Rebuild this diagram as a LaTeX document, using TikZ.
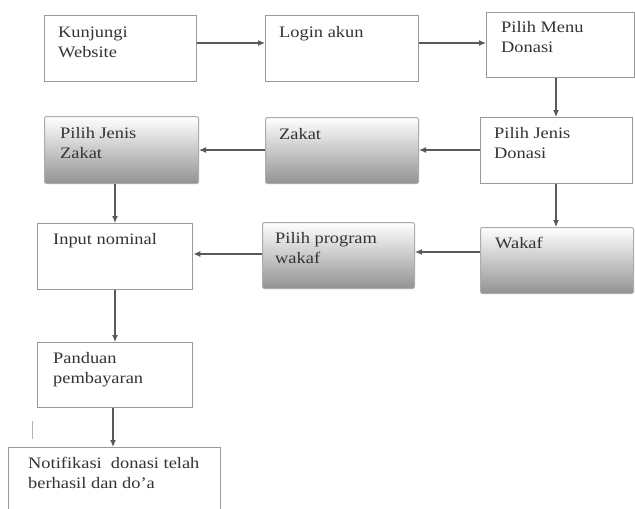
\documentclass[tikz,border=0pt]{standalone}
\usepackage{fontspec}
\newfontfamily\lbl{Liberation Serif}[FakeStretch=1.15]
\usetikzlibrary{arrows.meta}
\newcommand{\boxtext}[1]{\parbox[t]{220pt}{\lbl\fontsize{16}{20.5}\selectfont\raggedright #1}}
\tikzset{
  plainbox/.style={draw=gray!80, line width=1.3pt, fill=white, inner sep=0pt, anchor=north west},
  shadebox/.style={draw=gray!65, line width=1pt, rounded corners=1.5pt, top color=white, bottom color=gray!85, inner sep=0pt, anchor=north west},
  txt/.style={anchor=base west, inner sep=0pt, text=black!80},
  flow/.style={draw=gray!70!black, line width=1.2pt, -{Latex[length=7pt,width=6pt]}},
}
\begin{document}
\begin{tikzpicture}[x=1pt,y=-1pt]
\useasboundingbox (0,0) rectangle (635,509);
\clip (0,0) rectangle (635,509);
\fill[white] (0,0) rectangle (635,509);
% boxes: (left,top), width, height
\node[plainbox, minimum width=152pt, minimum height=66pt] (b1) at (44,15) {};
\node[plainbox, minimum width=153pt, minimum height=66pt] (b2) at (265,15) {};
\node[plainbox, minimum width=148pt, minimum height=65pt] (b3) at (486,12) {};
\node[plainbox, minimum width=152pt, minimum height=66pt] (b4) at (480,117) {};
\node[shadebox, minimum width=153pt, minimum height=66pt] (b5) at (265,117) {};
\node[shadebox, minimum width=154pt, minimum height=67pt] (b6) at (44,116) {};
\node[shadebox, minimum width=153pt, minimum height=66pt] (b7) at (480,227) {};
\node[shadebox, minimum width=152pt, minimum height=66pt] (b8) at (262,222) {};
\node[plainbox, minimum width=155pt, minimum height=66pt] (b9) at (37,223) {};
\node[plainbox, minimum width=155pt, minimum height=65pt] (b10) at (37,342) {};
\node[plainbox, minimum width=212pt, minimum height=80pt] (b11) at (8,447) {};
% texts
\node[txt] (t1) at ([shift={(14pt,-22pt)}]b1.north west) {\boxtext{Kunjungi\\Website}};
\node[txt] (t2) at ([shift={(14pt,-22pt)}]b2.north west) {\boxtext{Login akun}};
\node[txt] (t3) at ([shift={(15pt,-20pt)}]b3.north west) {\boxtext{Pilih Menu\\Donasi}};
\node[txt] (t4) at ([shift={(14pt,-21pt)}]b4.north west) {\boxtext{Pilih Jenis\\Donasi}};
\node[txt] (t5) at ([shift={(14pt,-22pt)}]b5.north west) {\boxtext{Zakat}};
\node[txt] (t6) at ([shift={(16pt,-22pt)}]b6.north west) {\boxtext{Pilih Jenis\\Zakat}};
\node[txt] (t7) at ([shift={(15pt,-21pt)}]b7.north west) {\boxtext{Wakaf}};
\node[txt] (t8) at ([shift={(13pt,-21pt)}]b8.north west) {\boxtext{Pilih program\\wakaf}};
\node[txt] (t9) at ([shift={(16pt,-21pt)}]b9.north west) {\boxtext{Input nominal}};
\node[txt] (t10) at ([shift={(16pt,-21pt)}]b10.north west) {\boxtext{Panduan\\pembayaran}};
\node[txt] (t11) at ([shift={(20pt,-21pt)}]b11.north west) {\boxtext{Notifikasi\ \ donasi telah\\berhasil dan do’a}};
% connectors
\draw[flow] (b1.east |- 0,43) -- (b2.west |- 0,43);
\draw[flow] (b2.east |- 0,43) -- (b3.west |- 0,43);
\draw[flow] (b3.south -| 556,0) -- (b4.north -| 556,0);
\draw[flow] (b4.west |- 0,150) -- (b5.east |- 0,150);
\draw[flow] (b5.west |- 0,150) -- (b6.east |- 0,150);
\draw[flow] (b4.south -| 556,0) -- (b7.north -| 556,0);
\draw[flow] (b7.west |- 0,252) -- (b8.east |- 0,252);
\draw[flow] (b8.west |- 0,254) -- (b9.east |- 0,254);
\draw[flow] (b6.south -| 115,0) -- (b9.north -| 115,0);
\draw[flow] (b9.south -| 115,0) -- (b10.north -| 115,0);
\draw[flow] (b10.south -| 113,0) -- (b11.north -| 113,0);
% stray mark
\draw[gray!60, line width=0.8pt] (32,421) -- (32,439);
\end{tikzpicture}
\end{document}
